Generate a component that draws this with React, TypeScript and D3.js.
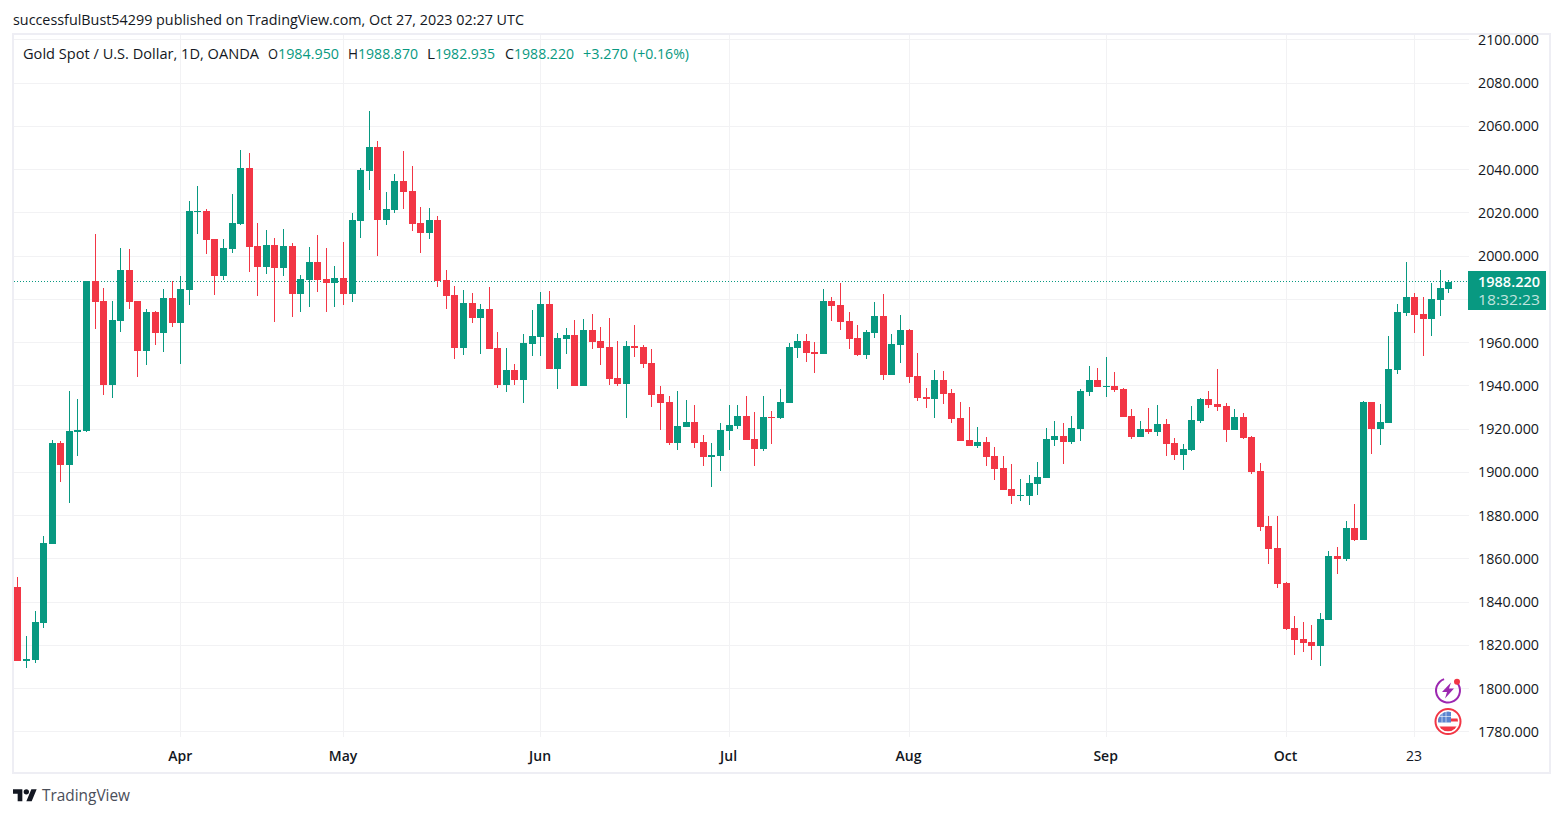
import React from "react";
import * as d3 from "d3";

const opens = [
  1847.0, 1812.7, 1813.2, 1830.3, 1866.8, 1913.5, 1903.4, 1918.6, 1919.1, 1988.5, 1979.2, 1940.4, 1970.0, 1993.5,
  1979.2, 1956.1, 1974.1, 1964.4, 1980.6, 1969.0, 1984.3, 2020.4, 2020.8, 2007.9, 1990.8, 2003.3, 2014.8, 2040.7,
  2004.6, 1994.9, 2005.1, 1994.5, 2004.6, 1982.4, 1988.9, 1997.2, 1989.4, 1987.5, 1989.8, 1982.4, 2016.2, 2039.3,
  2050.4, 2016.7, 2021.3, 2034.7, 2030.1, 2015.3, 2010.7, 2016.7, 1988.9, 1982.0, 1957.5, 1978.3, 1971.3, 1975.5,
  1957.5, 1940.4, 1947.3, 1942.7, 1959.3, 1962.6, 1977.8, 1947.8, 1961.6, 1963.5, 1939.9, 1965.8, 1960.7, 1957.9,
  1943.6, 1940.8, 1958.4, 1957.9, 1950.5, 1936.2, 1932.5, 1913.5, 1920.9, 1923.3, 1914.0, 1907.1, 1907.5, 1919.1,
  1921.4, 1926.0, 1915.4, 1910.8, 1925.6, 1925.1, 1932.0, 1957.5, 1960.7, 1955.6, 1954.7, 1979.2, 1977.4, 1970.0,
  1962.1, 1954.2, 1964.4, 1972.3, 1945.0, 1958.9, 1965.8, 1944.5, 1934.8, 1933.9, 1942.7, 1936.7, 1925.1, 1914.9,
  1912.2, 1914.0, 1907.5, 1902.0, 1892.3, 1889.0, 1889.0, 1894.6, 1897.4, 1914.9, 1916.8, 1914.0, 1920.0, 1937.1,
  1942.7, 1939.4, 1939.9, 1938.5, 1926.0, 1916.3, 1920.0, 1918.6, 1922.3, 1913.5, 1908.0, 1910.3, 1923.7, 1933.9,
  1931.6, 1930.7, 1919.6, 1925.6, 1916.3, 1900.6, 1875.2, 1865.0, 1848.8, 1828.0, 1822.9, 1821.5, 1819.7, 1831.7,
  1861.3, 1859.9, 1874.2, 1868.7, 1932.5, 1920.0, 1922.8, 1947.3, 1973.7, 1981.1, 1973.2, 1970.9, 1979.7, 1984.95,
];
const highs = [
  1851.6, 1824.3, 1835.9, 1870.5, 1914.9, 1914.5, 1937.6, 1933.9, 1988.5, 2010.2, 1985.2, 1979.2, 2003.7, 2003.3,
  1979.2, 1975.5, 1974.6, 1984.8, 1988.5, 1990.8, 2025.5, 2032.4, 2021.8, 2007.9, 2007.9, 2028.7, 2049.0, 2047.6,
  2015.3, 2012.0, 2008.3, 2012.5, 2006.0, 1991.2, 2004.2, 2009.7, 2003.7, 1995.4, 2006.5, 2019.9, 2040.7, 2067.1,
  2053.2, 2029.6, 2037.9, 2048.6, 2041.6, 2022.7, 2022.2, 2018.5, 1993.5, 1986.2, 1984.3, 1982.9, 1977.8, 1985.7,
  1964.9, 1957.5, 1950.1, 1964.0, 1975.0, 1983.4, 1983.8, 1964.4, 1966.7, 1970.4, 1970.9, 1973.2, 1967.2, 1971.3,
  1960.7, 1960.7, 1968.1, 1958.9, 1957.0, 1939.9, 1935.3, 1937.6, 1933.4, 1931.1, 1917.2, 1913.5, 1922.8, 1931.1,
  1931.1, 1935.3, 1927.9, 1935.3, 1928.3, 1938.5, 1959.8, 1964.0, 1964.0, 1960.3, 1984.8, 1981.1, 1987.5, 1974.1,
  1968.1, 1965.8, 1978.7, 1982.4, 1964.0, 1972.7, 1966.3, 1955.2, 1939.0, 1947.3, 1946.8, 1938.5, 1932.5, 1930.2,
  1920.9, 1916.3, 1911.7, 1907.5, 1903.8, 1896.9, 1898.8, 1904.8, 1920.5, 1923.7, 1922.8, 1926.0, 1938.5, 1949.2,
  1948.2, 1953.3, 1946.4, 1939.0, 1929.3, 1923.7, 1929.7, 1931.1, 1924.6, 1915.9, 1913.1, 1930.7, 1934.4, 1937.6,
  1947.8, 1932.0, 1929.3, 1927.4, 1916.8, 1904.3, 1879.8, 1879.8, 1849.3, 1833.5, 1830.8, 1829.4, 1834.9, 1863.6,
  1865.5, 1877.5, 1885.3, 1933.0, 1932.5, 1931.6, 1963.0, 1977.8, 1997.2, 1982.9, 1981.1, 1987.5, 1993.5, 1988.87,
];
const lows = [
  1812.7, 1809.5, 1811.8, 1828.0, 1866.8, 1895.5, 1885.8, 1907.5, 1918.6, 1966.3, 1935.7, 1934.4, 1964.9, 1975.5,
  1944.1, 1949.6, 1958.9, 1955.6, 1967.2, 1950.1, 1977.4, 2010.2, 2000.9, 1982.0, 1988.9, 2001.4, 2014.4, 1992.6,
  1981.5, 1991.7, 1969.5, 1990.8, 1971.8, 1974.1, 1976.4, 1983.4, 1974.1, 1976.4, 1977.4, 1978.7, 2008.3, 2030.5,
  2000.0, 2014.4, 2019.9, 2021.8, 2011.6, 2001.4, 2007.9, 1985.7, 1975.5, 1952.4, 1954.2, 1969.0, 1954.7, 1957.0,
  1939.0, 1937.1, 1940.4, 1932.0, 1953.8, 1953.8, 1947.8, 1938.5, 1954.7, 1939.9, 1939.9, 1957.0, 1949.6, 1940.4,
  1939.9, 1925.1, 1953.3, 1948.2, 1930.2, 1919.6, 1912.6, 1910.3, 1920.9, 1911.2, 1902.9, 1893.2, 1900.6, 1910.3,
  1920.0, 1914.9, 1902.9, 1909.8, 1913.1, 1924.6, 1932.0, 1952.9, 1951.0, 1945.9, 1954.7, 1970.0, 1965.8, 1957.0,
  1953.8, 1952.4, 1962.1, 1942.7, 1945.0, 1950.5, 1941.3, 1933.0, 1929.7, 1925.1, 1931.6, 1922.8, 1914.5, 1912.2,
  1911.2, 1902.9, 1896.4, 1891.8, 1885.3, 1886.7, 1884.9, 1889.5, 1897.4, 1912.2, 1903.8, 1913.1, 1914.5, 1935.3,
  1939.4, 1934.8, 1937.1, 1925.6, 1915.4, 1916.3, 1917.7, 1916.8, 1907.5, 1905.7, 1901.1, 1909.8, 1922.8, 1929.7,
  1928.3, 1914.0, 1919.6, 1915.4, 1899.2, 1872.9, 1857.6, 1846.5, 1827.1, 1815.5, 1816.9, 1813.2, 1810.4, 1831.7,
  1853.0, 1859.0, 1868.2, 1868.7, 1908.5, 1912.6, 1922.8, 1945.5, 1972.3, 1964.4, 1953.8, 1963.0, 1972.3, 1982.935,
];
const closes = [
  1812.7, 1813.7, 1830.8, 1867.3, 1913.5, 1903.4, 1919.1, 1919.6, 1988.5, 1978.7, 1940.4, 1970.4, 1993.5, 1978.7,
  1956.1, 1974.1, 1964.4, 1980.6, 1969.0, 1984.8, 2020.8, 2020.8, 2007.4, 1990.8, 2003.7, 2015.3, 2040.7, 2004.2,
  1994.9, 2005.1, 1994.5, 2004.6, 1982.4, 1989.4, 1997.2, 1988.9, 1987.5, 1989.8, 1982.4, 2016.7, 2039.8, 2050.4,
  2016.7, 2021.8, 2034.7, 2029.6, 2014.8, 2010.7, 2016.7, 1988.5, 1981.5, 1957.5, 1978.3, 1971.3, 1975.5, 1957.0,
  1940.4, 1947.3, 1942.7, 1959.8, 1963.0, 1977.8, 1947.8, 1962.1, 1963.5, 1939.9, 1965.8, 1960.3, 1957.5, 1943.1,
  1940.8, 1958.4, 1957.5, 1950.1, 1935.7, 1932.0, 1913.5, 1921.4, 1923.3, 1913.5, 1907.1, 1908.0, 1919.6, 1921.9,
  1926.0, 1914.9, 1910.8, 1925.6, 1925.1, 1932.5, 1957.9, 1960.7, 1955.2, 1954.7, 1979.2, 1976.9, 1969.5, 1961.6,
  1954.2, 1964.9, 1972.3, 1945.0, 1959.3, 1965.8, 1944.1, 1934.4, 1933.9, 1942.7, 1936.2, 1924.6, 1914.5, 1912.2,
  1914.0, 1907.1, 1901.5, 1891.8, 1889.0, 1889.5, 1895.0, 1897.8, 1915.4, 1916.8, 1914.0, 1920.5, 1937.6, 1942.7,
  1939.4, 1939.9, 1938.0, 1925.6, 1916.3, 1920.0, 1918.6, 1922.3, 1913.1, 1908.0, 1910.8, 1924.2, 1933.9, 1931.1,
  1930.2, 1919.6, 1925.6, 1915.9, 1900.1, 1874.7, 1864.5, 1848.3, 1827.5, 1822.4, 1821.1, 1819.7, 1832.2, 1861.3,
  1859.9, 1874.2, 1868.7, 1932.5, 1920.0, 1923.3, 1947.8, 1974.1, 1981.1, 1972.7, 1970.9, 1980.1, 1985.2, 1988.22,
];

// bar index of each label on the time axis
const timeLabels = ["Apr", "May", "Jun", "Jul", "Aug", "Sep", "Oct", "23"];
const timeIndex = [19, 38, 61, 83, 104, 127, 148, 163];

const lastPrice = 1988.22;
const countdown = "18:32:23";

const GREEN = "#089981";
const RED = "#f23645";
const GRID = "#f2f2f4";
const FRAME = "#eeeef4";
const TEXT = "#131722";
const FONT = "'Open Sans', sans-serif";

const x = d3.scaleLinear().domain([0, opens.length - 1]).range([17.4, 1448.4]);
const y = d3.scaleLinear().domain([1780, 2100]).range([731.8, 39.8]);
const fmt = d3.format(".3f");

// legend pieces: text, left edge, right edge, colour
const legendParts: [string, number, number, string][] = [
  ["Gold Spot / U.S. Dollar, 1D, OANDA", 23, 259, TEXT],
  ["O", 268, 278, TEXT],
  ["1984.950", 278, 339, GREEN],
  ["H", 348, 358, TEXT],
  ["1988.870", 358, 418, GREEN],
  ["L", 427, 435, TEXT],
  ["1982.935", 435, 495, GREEN],
  ["C", 505, 514, TEXT],
  ["1988.220", 514, 574, GREEN],
  ["+3.270", 583, 628, GREEN],
  ["(+0.16%)", 633, 689, GREEN],
];

function Candles() {
  return (
    <g shapeRendering="crispEdges">
      {opens.map((o, i) => {
        const c = closes[i];
        const cx = Math.round(x(i));
        const top = Math.round(y(Math.max(o, c)));
        const bottom = Math.max(Math.round(y(Math.min(o, c))), top + 1);
        const wickTop = Math.round(y(highs[i]));
        return (
          <g key={i} fill={c >= o ? GREEN : RED}>
            <rect x={cx} y={wickTop} width={1} height={Math.round(y(lows[i])) - wickTop} />
            <rect x={cx - 3} y={top} width={7} height={bottom - top} />
          </g>
        );
      })}
    </g>
  );
}

function Icons() {
  const r = 13;
  return (
    <g>
      <g transform="translate(1448,690.5)">
        <path d={d3.arc()({ innerRadius: r - 2, outerRadius: r, startAngle: 0.6, endAngle: 5.95 }) ?? ""} fill="#9c27b0" />
        <path d="M3,-8 L-6,1.5 L-1,1.5 L-3,8 L6,-2 L1,-2 Z" fill="#9c27b0" />
        <circle cx={9} cy={-8.8} r={3} fill={RED} />
      </g>
      <g transform="translate(1448,721.5)">
        <defs>
          <clipPath id="flag">
            <circle r={10} />
          </clipPath>
        </defs>
        <circle r={12.5} fill="#fff" stroke={RED} strokeWidth={2} />
        <g clipPath="url(#flag)">
          <rect x={-11} y={-11} width={22} height={22} fill="#fff" />
          <rect x={-11} y={-3} width={22} height={3} fill={RED} />
          <rect x={-11} y={5} width={22} height={5} fill={RED} />
          <rect x={-11} y={-11} width={14} height={12} fill="#5b84cf" />
          <path d="M-6,-11V1M-2,-11V1M-11,-5H3" stroke="#fff" strokeOpacity={0.6} fill="none" />
        </g>
      </g>
    </g>
  );
}

export default function App() {
  const priceTicks = y.ticks(16);
  const py = Math.floor(y(lastPrice)) + 0.5;
  // the last price badge sits on top of the tick next to it
  const priceLabels = priceTicks.filter(t => Math.abs(y(t) - y(lastPrice)) > 20);
  return (
    <svg
      width={1563}
      height={817}
      style={{ position: "absolute", left: 0, top: 0, display: "block", background: "#fff" }}
      fontFamily={FONT}
    >
      <text x={13} y={25} fontSize={14} fill={TEXT} textLength={511} lengthAdjust="spacingAndGlyphs">
        successfulBust54299 published on TradingView.com, Oct 27, 2023 02:27 UTC
      </text>

      <rect x={13} y={34} width={1537} height={739} fill="#fff" stroke={FRAME} strokeWidth={2} />

      <g stroke={GRID} shapeRendering="crispEdges">
        {priceTicks.map(t => (
          <line key={t} x1={14} x2={1469} y1={Math.floor(y(t)) + 0.5} y2={Math.floor(y(t)) + 0.5} />
        ))}
        {timeIndex.map(i => (
          <line key={i} x1={Math.round(x(i)) + 0.5} x2={Math.round(x(i)) + 0.5} y1={35} y2={737} />
        ))}
      </g>

      <line x1={14} x2={1468} y1={py} y2={py} stroke={GREEN} strokeDasharray="1 2" shapeRendering="crispEdges" />

      <Candles />

      {legendParts.map(([t, a, b, color]) => (
        <text key={t + a} x={a} y={59} fontSize={14} fill={color} textLength={b - a} lengthAdjust="spacingAndGlyphs">
          {t}
        </text>
      ))}

      {priceLabels.map(t => (
        <text key={t} x={1478} y={y(t) + 5} fontSize={14} fill={TEXT} textLength={61} lengthAdjust="spacingAndGlyphs">
          {fmt(t)}
        </text>
      ))}

      {timeLabels.map((t, i) => (
        <text
          key={t}
          x={x(timeIndex[i])}
          y={761}
          fontSize={14}
          fill={TEXT}
          textAnchor="middle"
          fontWeight={t === "23" ? 400 : 600}
        >
          {t}
        </text>
      ))}

      <rect x={1468} y={271} width={78} height={39} fill={GREEN} />
      <text x={1478} y={287} fontSize={14} fontWeight={600} fill="#fff" textLength={62} lengthAdjust="spacingAndGlyphs">
        {lastPrice.toFixed(3)}
      </text>
      <text x={1478} y={305} fontSize={14} fill="#fff" fillOpacity={0.75} textLength={62} lengthAdjust="spacingAndGlyphs">
        {countdown}
      </text>

      <Icons />

      <g transform="translate(13,786.5) scale(0.667)" fill={TEXT}>
        <path d="M14 22H7V11H0V4h14v18zM28 22h-8l7.5-18h8L28 22z" />
        <circle cx={20} cy={8} r={4} />
      </g>
      <text x={42} y={801} fontSize={16} fill="#4a4e59" textLength={88} lengthAdjust="spacingAndGlyphs">
        TradingView
      </text>
    </svg>
  );
}
